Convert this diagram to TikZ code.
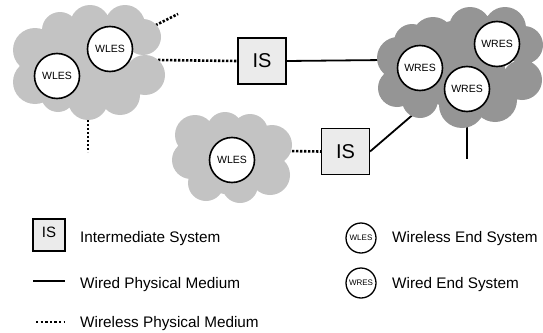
\documentclass[tikz,border=0pt]{standalone}
\usepackage{fontspec}
\setmainfont{Liberation Sans}
\definecolor{cloudlight}{HTML}{C3C3C3}
\definecolor{clouddark}{HTML}{959595}
\definecolor{boxfill}{HTML}{EBEBEB}
\tikzset{
  isbox/.style={rectangle, draw=black, line width=1.1pt, fill=boxfill,
    minimum width=48pt, minimum height=46pt, inner sep=0pt,
    font=\fontsize{20}{24}\selectfont},
  endsys/.style={circle, draw=black, line width=1.6pt, fill=white,
    minimum size=45pt, inner sep=0pt, font=\fontsize{10.5}{12}\selectfont},
  legbox/.style={rectangle, draw=black, line width=1.1pt, fill=boxfill,
    minimum size=32pt, inner sep=0pt, text depth=5pt,
    font=\fontsize{15}{18}\selectfont},
  legsys/.style={circle, draw=black, line width=1.3pt, fill=white,
    minimum size=30pt, inner sep=0pt, font=\fontsize{8}{9}\selectfont},
  wired/.style={line width=1.8pt},
  wireless/.style={line width=2.6pt, dash pattern=on 2.3pt off 1.7pt},
  legwireless/.style={line width=2.2pt, dash pattern=on 2.4pt off 2.2pt},
  legtext/.style={anchor=base west, inner sep=0pt,
    font=\fontsize{15.3}{18}\selectfont},
}
\begin{document}
\begin{tikzpicture}[x=1pt,y=-1pt]
\useasboundingbox (0,0) rectangle (543,332);

% intermediate systems
\node[isbox] (is1) at (262,61) {IS};
\node[isbox] (is2) at (345.5,151.5) {IS};

% connector end points inside the clouds
\coordinate (lcRight) at (158,60);
\coordinate (lcTop)   at (152,27);
\coordinate (lcTopEnd) at (178,14);
\coordinate (lcBot)   at (88,112);
\coordinate (lcBotEnd) at (88,152);
\coordinate (scRight) at (284,151);
\coordinate (rcLeft)  at (385,60);
\coordinate (rcLow)   at (416,112);
\coordinate (rcBot)   at (467,115);
\coordinate (rcBotEnd) at (467,159);

% media
\draw[wireless] (lcRight) -- (is1.west);
\draw[wireless] (lcTop) -- (lcTopEnd);
\draw[wireless] (lcBot) -- (lcBotEnd);
\draw[wireless] (scRight) -- (is2.west);
\draw[wired] (is1.east) -- (rcLeft);
\draw[wired] (is2.east) -- (rcLow);
\draw[wired] (rcBot) -- (rcBotEnd);

% wireless cloud, upper left
\fill[cloudlight]
  (35,50) circle (22pt) (35,82) circle (22pt) (58,95) circle (17pt)
  (88,100) circle (20pt) (120,95) circle (20pt) (145,75) circle (20pt)
  (143,37) circle (18pt) (125,25) circle (20pt) (90,25) circle (20pt)
  (60,30) circle (18pt) (90,65) circle (40pt);

% wireless cloud, lower middle
\fill[cloudlight]
  (195,135) circle (20pt) (191,160) circle (19pt) (206,183) circle (18pt)
  (240,185) circle (18pt) (270,175) circle (20pt) (272,145) circle (20pt)
  (250,132) circle (18pt) (225,130) circle (18pt) (232,160) circle (35pt);

% wired cloud, right
\fill[clouddark]
  (398,58) circle (21pt) (397,88) circle (19pt) (420,100) circle (18pt)
  (462,105) circle (23pt) (495,100) circle (22pt) (522,80) circle (20pt)
  (524,45) circle (19pt) (505,28) circle (21pt) (470,28) circle (21pt)
  (433,38) circle (21pt) (412,42) circle (18pt) (460,65) circle (45pt);

% end systems
\node[endsys] (wl1) at (110,49) {WLES};
\node[endsys] (wl2) at (57,76) {WLES};
\node[endsys] (wl3) at (232,160) {WLES};
\node[endsys] (wr1) at (420,68) {WRES};
\node[endsys] (wr2) at (497,44) {WRES};
\node[endsys] (wr3) at (467,89) {WRES};

% legend
\node[legbox] (legIS) at (49,235) {IS};
\node[legtext] (txtIS) at (80,242) {Intermediate System};
\coordinate (lwA) at (33,281);
\coordinate (lwB) at (65,281);
\draw[wired] (lwA) -- (lwB);
\node[legtext] (txtWired) at (80,288) {Wired Physical Medium};
\coordinate (llA) at (36,322);
\coordinate (llB) at (65,322);
\draw[legwireless] (llA) -- (llB);
\node[legtext] (txtWireless) at (80,327) {Wireless Physical Medium};

\node[legsys] (legWL) at (361,238) {WLES};
\node[legtext] (txtWL) at (392,242) {Wireless End System};
\node[legsys] (legWR) at (361,283) {WRES};
\node[legtext] (txtWR) at (392,288) {Wired End System};
\end{tikzpicture}
\end{document}
